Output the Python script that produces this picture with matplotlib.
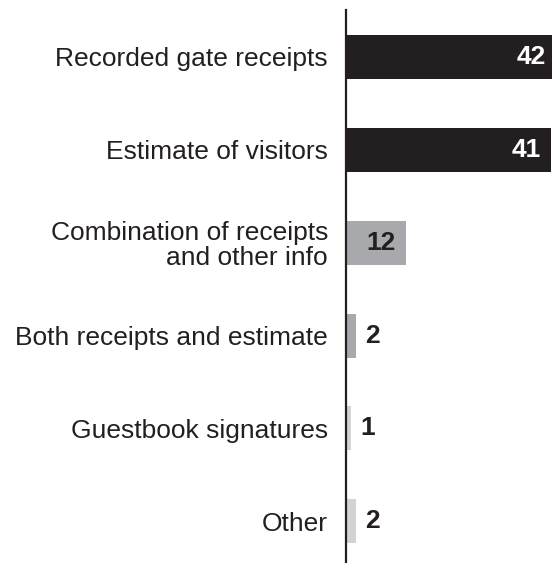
import matplotlib
matplotlib.use("Agg")
import matplotlib.pyplot as plt

categories = [
    "Recorded gate receipts",
    "Estimate of visitors",
    "Combination of receipts\nand other info",
    "Both receipts and estimate",
    "Guestbook signatures",
    "Other",
]
values = [42, 41, 12, 2, 1, 2]
colors = ["#231f20", "#231f20", "#a7a9ac", "#a7a9ac", "#d1d3d4", "#d1d3d4"]
label_colors = ["white", "white", "#231f20", "#231f20", "#231f20", "#231f20"]

plt.rcParams["font.family"] = ["Liberation Sans", "DejaVu Sans"]

fig = plt.figure(figsize=(5.52, 5.63), dpi=100)
ax = fig.add_axes([346 / 552, 0, 1 - 346 / 552, 1 - 10 / 563])

ypos = list(range(len(categories)))
ax.barh(ypos, values, height=0.474, color=colors, zorder=1)

ax.set_xlim(0, 41.2)
ax.set_ylim(5.45, -0.506)

for y, v, tc in zip(ypos, values, label_colors):
    if v >= 10:
        ax.annotate(str(v), (v, y), xytext=(-7.5, 0), textcoords="offset points",
                    ha="right", va="center", fontsize=19, fontweight="bold",
                    color=tc, annotation_clip=False)
    else:
        ax.annotate(str(v), (v, y), xytext=(6.5, 0), textcoords="offset points",
                    ha="left", va="center", fontsize=19, fontweight="bold",
                    color=tc, annotation_clip=False)

ax.set_yticks(ypos)
ax.set_yticklabels(categories, fontsize=19, color="#231f20", linespacing=1.05)
ax.tick_params(axis="y", length=0, pad=13)
ax.set_xticks([])

for s in ["top", "right", "bottom"]:
    ax.spines[s].set_visible(False)
ax.spines["left"].set_color("#231f20")
ax.spines["left"].set_linewidth(1.6)
ax.spines["left"].set_zorder(3)

fig.savefig("out.png", dpi=100)
